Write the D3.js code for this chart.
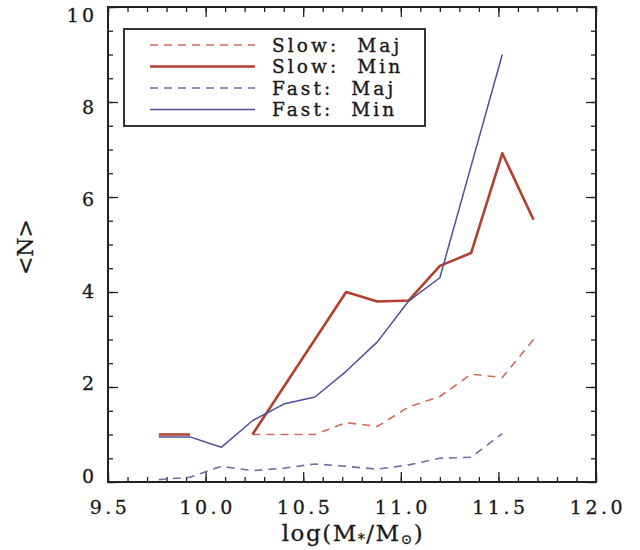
<!DOCTYPE html>
<html><head><meta charset="utf-8">
<script src="https://cdn.jsdelivr.net/npm/d3@7"></script>
<style>body{margin:0;background:#fff}svg{display:block}</style>
</head><body>
<svg id="chart" width="640" height="550"></svg>
<script>
const massBins = [9.76, 9.92, 10.08, 10.24, 10.40, 10.56, 10.72, 10.88, 11.04, 11.20, 11.36, 11.52, 11.68];
const slowMaj = [null, null, null, 1.0, 1.0, 1.0, 1.25, 1.17, 1.58, 1.80, 2.27, 2.20, 3.0];
const slowMin = [1.0, 1.0, null, 1.0, 2.0, 3.0, 4.0, 3.8, 3.82, 4.55, 4.82, 6.92, 5.52];
const fastMaj = [0.05, 0.1, 0.33, 0.24, 0.29, 0.38, 0.33, 0.27, 0.36, 0.5, 0.52, 1.02, null];
const fastMin = [0.95, 0.95, 0.73, 1.29, 1.64, 1.79, 2.33, 2.95, 3.81, 4.3, 6.65, 9.0, null];
const seriesNames = ["Slow:  Maj", "Slow:  Min", "Fast:  Maj", "Fast:  Min"];
const xMajorTicks = [9.5, 10.0, 10.5, 11.0, 11.5, 12.0];
const yMajorTicks = [0, 2, 4, 6, 8, 10];
const yTitle = "<N>";

const svg = d3.select("#chart");
const FONT = "'DejaVu Serif', serif";
const x = d3.scaleLinear().domain([9.5, 12.0]).range([108, 596]);
const y = d3.scaleLinear().domain([0, 10]).range([482, 7]);
const xMinor = d3.range(95, 121).map(d => d / 10);
const yMinor = d3.range(0, 21).map(d => d / 2);

function axisGroup(axis, tx, ty) {
  const g = svg.append("g").attr("transform", `translate(${tx},${ty})`).call(axis);
  g.select(".domain").remove();
  g.selectAll("line").attr("stroke", "#222").attr("stroke-width", 1.3);
  return g;
}
// minor ticks
axisGroup(d3.axisBottom(x).tickValues(xMinor).tickSize(-5).tickFormat(""), 0, y(0));
axisGroup(d3.axisTop(x).tickValues(xMinor).tickSize(-5).tickFormat(""), 0, y(10));
axisGroup(d3.axisLeft(y).tickValues(yMinor).tickSize(-5).tickFormat(""), x(9.5), 0);
axisGroup(d3.axisRight(y).tickValues(yMinor).tickSize(-5).tickFormat(""), x(12.0), 0);
// major ticks
const gx = axisGroup(d3.axisBottom(x).tickValues(xMajorTicks).tickSize(-10).tickPadding(20).tickFormat(d3.format(".1f")), 0, y(0));
gx.selectAll("text").attr("font-family", FONT).attr("font-size", 19).attr("letter-spacing", 3.5)
  .attr("fill", "#1a1a1a").attr("stroke", "#1a1a1a").attr("stroke-width", 0.3)
  .attr("dy", "0.71em").attr("y", 19).attr("dx", 1.5);
axisGroup(d3.axisTop(x).tickValues(xMajorTicks).tickSize(-10).tickFormat(""), 0, y(10));
const gy = axisGroup(d3.axisLeft(y).tickValues(yMajorTicks).tickSize(-10).tickPadding(11).tickFormat(d3.format("d")), x(9.5), 0);
gy.selectAll("text").attr("font-family", FONT).attr("font-size", 19).attr("letter-spacing", 3)
  .attr("fill", "#1a1a1a").attr("stroke", "#1a1a1a").attr("stroke-width", 0.3)
  .attr("transform", d => `translate(0,${-6 + 1.4 * d})`);
axisGroup(d3.axisRight(y).tickValues(yMajorTicks).tickSize(-10).tickFormat(""), x(12.0), 0);

// frame
svg.append("rect").attr("x", x(9.5)).attr("y", y(10))
  .attr("width", x(12.0) - x(9.5)).attr("height", y(0) - y(10))
  .attr("fill", "none").attr("stroke", "#222").attr("stroke-width", 2);

const styles = [
  {data: slowMaj, color: "#d06a5c", width: 1.6, dash: "8,6"},
  {data: slowMin, color: "#b3402f", width: 2.6, dash: null},
  {data: fastMaj, color: "#6e6ea2", width: 1.6, dash: "8,6"},
  {data: fastMin, color: "#4e4e9c", width: 1.5, dash: null}
];
const line = d3.line().defined(d => d[1] != null).x(d => x(d[0])).y(d => y(d[1]));
styles.forEach(s => {
  svg.append("path").datum(massBins.map((m, i) => [m, s.data[i]]))
    .attr("d", line).attr("fill", "none").attr("stroke", s.color)
    .attr("stroke-width", s.width).attr("stroke-dasharray", s.dash)
    .attr("stroke-linejoin", "round");
});

// legend
svg.append("rect").attr("x", 124).attr("y", 29).attr("width", 301).attr("height", 97)
  .attr("fill", "#fff").attr("stroke", "#333").attr("stroke-width", 2);
const rowsY = [45, 66.5, 88, 109.5];
styles.forEach((s, i) => {
  svg.append("line").attr("x1", 150).attr("x2", 255).attr("y1", rowsY[i]).attr("y2", rowsY[i])
    .attr("stroke", s.color).attr("stroke-width", s.width).attr("stroke-dasharray", s.dash);
});
const legText = svg.append("text").attr("font-family", FONT).attr("font-size", 18.5)
  .attr("fill", "#1a1a1a").attr("stroke", "#1a1a1a").attr("stroke-width", 0.35)
  .attr("letter-spacing", 3.1).attr("xml:space", "preserve").style("white-space", "pre");
seriesNames.forEach((n, i) => {
  legText.append("tspan").attr("x", 272).attr("y", rowsY[i]).attr("dy", "0.36em").text(n);
});

// titles
const xt = svg.append("text").attr("x", 353).attr("y", 541).attr("text-anchor", "middle")
  .attr("font-family", FONT).attr("font-size", 23).attr("fill", "#1a1a1a")
  .attr("stroke", "#1a1a1a").attr("stroke-width", 0.3).attr("letter-spacing", 1.5);
xt.append("tspan").text("log(M");
xt.append("tspan").attr("font-size", 14).attr("dy", 3).text("*");
xt.append("tspan").attr("dy", -3).text("/M");
xt.append("tspan").attr("font-size", 14).attr("dy", 3).text("⊙");
xt.append("tspan").attr("dy", -3).text(")");

svg.append("text").attr("transform", "translate(33,247) rotate(-90)")
  .attr("text-anchor", "middle").attr("font-family", FONT).attr("font-size", 22)
  .attr("fill", "#1a1a1a").attr("stroke", "#1a1a1a").attr("stroke-width", 0.3)
  .text(yTitle);
</script>
</body></html>
